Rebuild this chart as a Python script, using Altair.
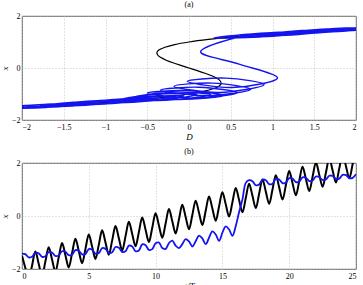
import altair as alt
import pandas as pd

# ---- time grid (t/T, quarter periods) ----
t_T = [i * 0.25 for i in range(101)]

# ---- black series in (b): forcing D(t) read at quarter periods ----
D_black = [
    -1.50, -1.96, -2.42, -1.88,
    -1.34, -1.80, -2.26, -1.72,
    -1.18, -1.64, -2.10, -1.56,
    -1.02, -1.48, -1.94, -1.40,
    -0.86, -1.32, -1.78, -1.24,
    -0.70, -1.16, -1.62, -1.08,
    -0.54, -1.00, -1.46, -0.92,
    -0.38, -0.84, -1.30, -0.76,
    -0.22, -0.68, -1.14, -0.60,
    -0.06, -0.52, -0.98, -0.44,
    0.10, -0.36, -0.82, -0.28,
    0.26, -0.20, -0.66, -0.12,
    0.42, -0.04, -0.50, 0.04,
    0.58, 0.12, -0.34, 0.20,
    0.74, 0.28, -0.18, 0.36,
    0.90, 0.44, -0.02, 0.52,
    1.06, 0.60, 0.14, 0.68,
    1.22, 0.76, 0.30, 0.84,
    1.38, 0.92, 0.46, 1.00,
    1.54, 1.08, 0.62, 1.16,
    1.70, 1.24, 0.78, 1.32,
    1.86, 1.40, 0.94, 1.48,
    2.02, 1.56, 1.10, 1.64,
    2.18, 1.72, 1.26, 1.80,
    2.34, 1.88, 1.42, 1.96,
    2.50,
]

# ---- blue series in (b): response x(t) read at quarter periods ----
x_blue = [
    -1.42, -1.44, -1.56, -1.54,
    -1.39, -1.41, -1.54, -1.52,
    -1.36, -1.38, -1.51, -1.49,
    -1.33, -1.35, -1.48, -1.46,
    -1.29, -1.31, -1.45, -1.43,
    -1.25, -1.27, -1.42, -1.40,
    -1.21, -1.24, -1.39, -1.37,
    -1.17, -1.20, -1.36, -1.33,
    -1.12, -1.15, -1.33, -1.30,
    -1.07, -1.10, -1.28, -1.25,
    -1.03, -1.00, -1.21, -1.24,
    -1.02, -0.93, -1.12, -1.21,
    -1.06, -0.87, -0.96, -1.15,
    -0.95, -0.74, -0.85, -1.06,
    -0.82, -0.58, -0.70, -0.94,
    -0.63, -0.39, -0.51, -0.75,
    -0.38, 0.15, 0.62, 1.25,
    1.35, 1.31, 1.16, 1.19,
    1.37, 1.35, 1.20, 1.22,
    1.40, 1.38, 1.24, 1.26,
    1.43, 1.41, 1.28, 1.30,
    1.46, 1.44, 1.32, 1.34,
    1.49, 1.47, 1.36, 1.38,
    1.52, 1.51, 1.40, 1.41,
    1.55, 1.54, 1.43, 1.44,
    1.575,
]

# ---- black S-shaped equilibrium curve in (a) ----
s_x = [-1.55, -1.5, -1.4, -1.3, -1.2, -1.1, -1.0, -0.9, -0.8, -0.7, -0.6, -0.5,
       -0.4, -0.3, -0.2, -0.1, 0.0, 0.1, 0.2, 0.3, 0.4, 0.5, 0.6, 0.7, 0.8,
       0.9, 1.0, 1.1, 1.2, 1.3, 1.4, 1.5, 1.55]
s_D = [-2.174, -1.875, -1.344, -0.897, -0.528, -0.231, 0.0, 0.171, 0.288, 0.357,
       0.384, 0.375, 0.336, 0.273, 0.192, 0.099, 0.0, -0.099, -0.192, -0.273,
       -0.336, -0.375, -0.384, -0.357, -0.288, -0.171, 0.0, 0.231, 0.528,
       0.897, 1.344, 1.875, 2.174]

D_ticks = [-2, -1.5, -1, -0.5, 0, 0.5, 1, 1.5, 2]
t_ticks = [0, 5, 10, 15, 20, 25]
x_ticks = [-2, -1, 0, 1, 2]

BLUE = "#1414f0"
SERIF = "Liberation Serif"

ts = pd.DataFrame({"t": t_T, "D": D_black, "x": x_blue})
ts["order"] = range(len(ts))
scurve = pd.DataFrame({"D": s_D, "x": s_x, "order": range(len(s_x))})

W = 334

yscale = alt.Scale(domain=[-2, 2], nice=False, zero=False)
yax = alt.Axis(values=x_ticks, format="~g", title="x", titlePadding=2, labelPadding=2)

# Panel (a)
a_black = alt.Chart(scurve).mark_line(
    color="black", strokeWidth=1.2, interpolate="catmull-rom", clip=True
).encode(
    x=alt.X("D:Q", scale=alt.Scale(domain=[-2, 2], nice=False, zero=False),
            axis=alt.Axis(values=D_ticks, format="~g", title="D", titlePadding=1)),
    y=alt.Y("x:Q", scale=yscale, axis=yax),
    order="order:Q",
)
a_blue = alt.Chart(ts).mark_line(
    color=BLUE, strokeWidth=1.4, interpolate="catmull-rom", clip=True
).encode(
    x="D:Q",
    y="x:Q",
    order="order:Q",
)
panel_a = alt.layer(a_black, a_blue).properties(
    width=W, height=104,
    title=alt.TitleParams("(a)", fontSize=8, font=SERIF, fontWeight="normal", offset=3),
)

# Panel (b)
b_black = alt.Chart(ts).mark_line(
    color="black", strokeWidth=2, interpolate="catmull-rom", clip=True
).encode(
    x=alt.X("t:Q", scale=alt.Scale(domain=[0, 25], nice=False, zero=False),
            axis=alt.Axis(values=t_ticks, format="~g", title="t/T", titlePadding=1)),
    y=alt.Y("D:Q", scale=yscale, axis=yax),
)
b_blue = alt.Chart(ts).mark_line(
    color=BLUE, strokeWidth=1.8, interpolate="catmull-rom", clip=True
).encode(
    x="t:Q",
    y="x:Q",
)
panel_b = alt.layer(b_black, b_blue).properties(
    width=W, height=106,
    title=alt.TitleParams("(b)", fontSize=8, font=SERIF, fontWeight="normal", offset=3),
)

chart = alt.vconcat(panel_a, panel_b, spacing=5).properties(
    padding={"left": 0, "top": 0, "right": 3, "bottom": 0},
    background="white",
).configure_view(
    stroke="#333", strokeWidth=0.8
).configure_axis(
    labelFont=SERIF, labelFontSize=8, labelColor="black", labelPadding=3,
    titleFont=SERIF, titleFontSize=9, titleFontStyle="italic",
    titleFontWeight="normal", titleColor="black",
    grid=True, gridColor="#b8b8b8", gridDash=[1, 2], gridWidth=0.8,
    domain=False, ticks=False,
)

chart.save("out.html", embed_options={"renderer": "svg", "actions": False})
